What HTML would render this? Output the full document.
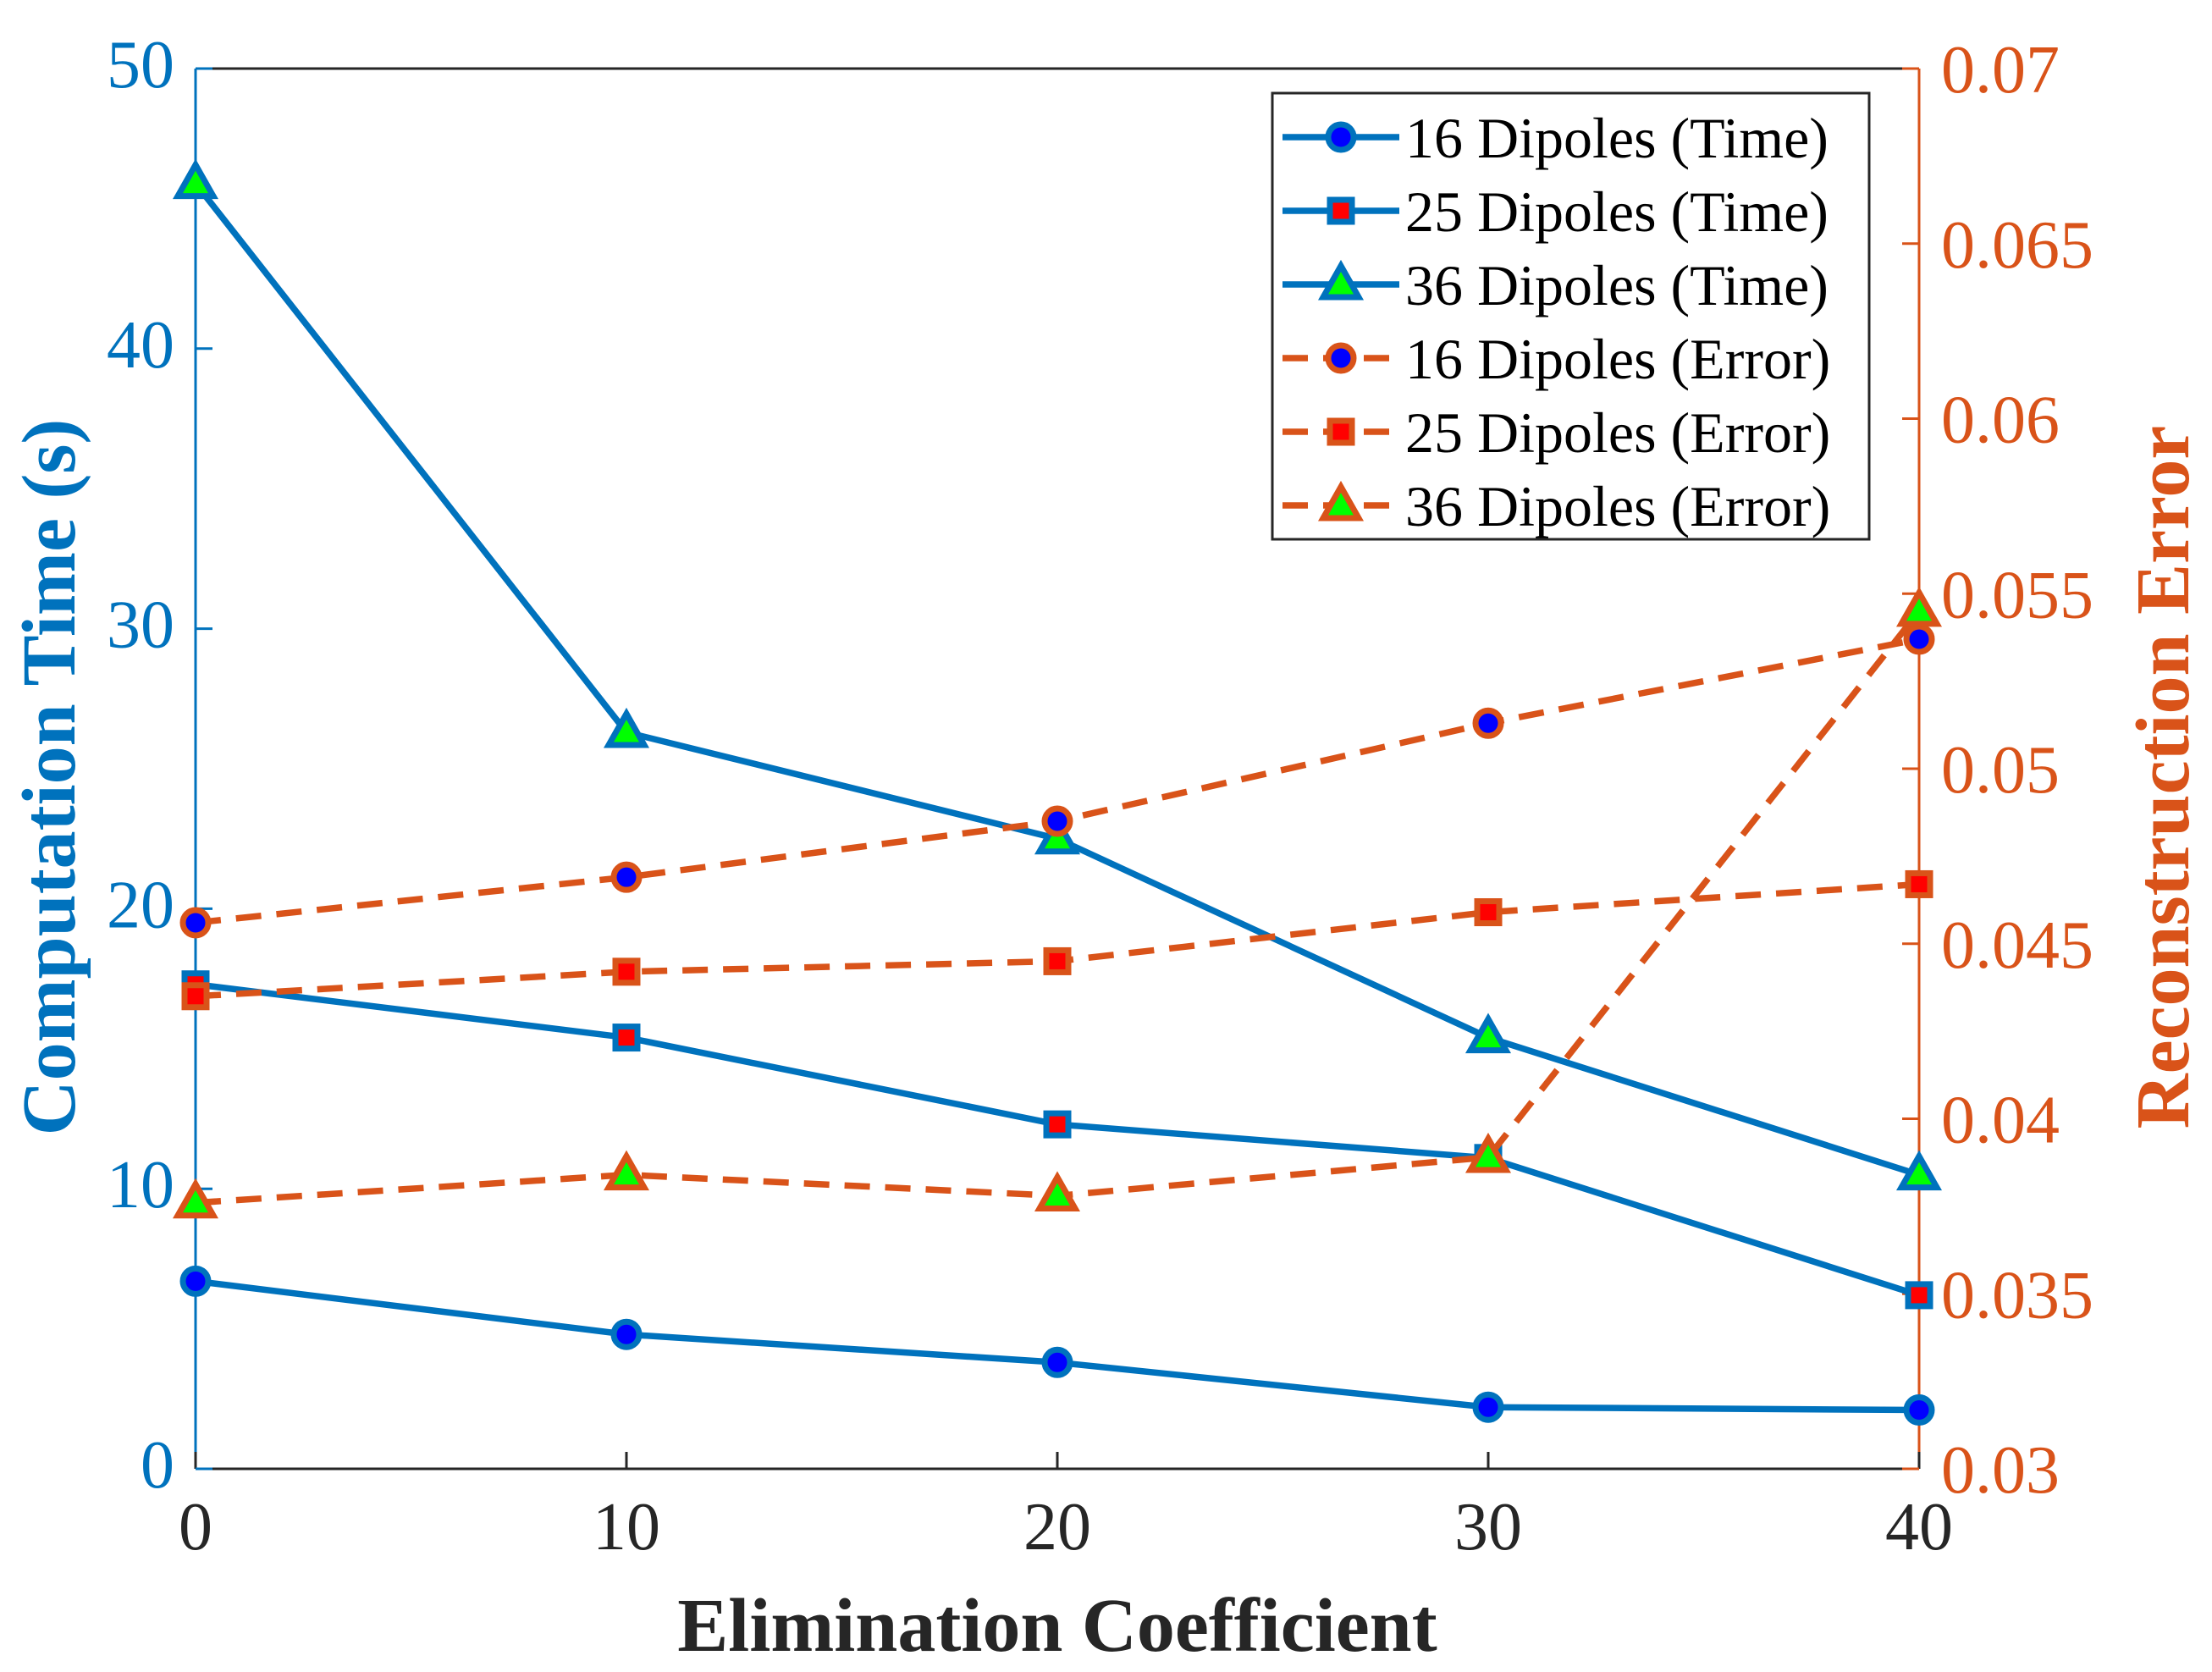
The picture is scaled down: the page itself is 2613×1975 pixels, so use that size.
<!DOCTYPE html>
<html><head><meta charset="utf-8"><style>
html,body{margin:0;padding:0;background:#fff}
svg{display:block;font-family:"Liberation Serif",serif}
</style></head><body>
<svg id="chart" width="2613" height="1975" viewBox="0 0 2613 1975" xmlns="http://www.w3.org/2000/svg"></svg>
<script>
const categories=[0,10,20,30,40];
const time16=[6.7,4.8,3.8,2.2,2.1];
const time25=[17.3,15.4,12.3,11.1,6.2];
const time36=[45.9,26.3,22.5,15.4,10.5];
const err16=[0.0456,0.0469,0.0485,0.0513,0.0537];
const err25=[0.0435,0.0442,0.0445,0.0459,0.0467];
const err36=[0.0376,0.0384,0.0378,0.0389,0.0545];
const xTicks=[0,10,20,30,40];
const yLTicks=[0,10,20,30,40,50];
const yRTicks=[0.03,0.035,0.04,0.045,0.05,0.055,0.06,0.065,0.07];
const yRLabels=["0.03","0.035","0.04","0.045","0.05","0.055","0.06","0.065","0.07"];

const PL=231,PR=2267,PT=81,PB=1735;
const BLUE="#0072BD",ORANGE="#D95319";
const LW=7.5;
const sx=v=>PL+(v-0)/(40-0)*(PR-PL);
const syL=v=>PB-(v-0)/(50-0)*(PB-PT);
const syR=v=>PB-(v-0.03)/(0.07-0.03)*(PB-PT);
const svgEl=document.getElementById('chart');
const NS="http://www.w3.org/2000/svg";
function mk(tag,attrs,parent){const e=document.createElementNS(NS,tag);for(const k in attrs)e.setAttribute(k,attrs[k]);(parent||svgEl).appendChild(e);return e;}

const topBorder=mk('line',{x1:PL,y1:PT,x2:PR,y2:PT,stroke:'#262626','stroke-width':3});


const botAxis=mk('line',{x1:PL,y1:PB,x2:PR,y2:PB,stroke:'#262626','stroke-width':3});


const leftAxis=mk('line',{x1:PL,y1:PT,x2:PL,y2:PB,stroke:BLUE,'stroke-width':3});


const rightAxis=mk('line',{x1:PR,y1:PT,x2:PR,y2:PB,stroke:ORANGE,'stroke-width':3});



xTicks.forEach(v=>{
  const t=mk('line',{x1:sx(v),y1:PB,x2:sx(v),y2:PB-20,stroke:'#262626','stroke-width':3});
  
  
  const tx=mk('text',{x:sx(v),y:PB+95,'text-anchor':'middle','font-size':80,fill:'#262626'});
  tx.textContent=v;
  
  
});
yLTicks.forEach(v=>{
  const t=mk('line',{x1:PL,y1:syL(v),x2:PL+20,y2:syL(v),stroke:BLUE,'stroke-width':3});
  
  
  const tx=mk('text',{x:PL-25,y:syL(v)+22,'text-anchor':'end','font-size':80,fill:BLUE});
  tx.textContent=v;
  
  
});
yRTicks.forEach((v,i)=>{
  const t=mk('line',{x1:PR,y1:syR(v),x2:PR-20,y2:syR(v),stroke:ORANGE,'stroke-width':3});
  
  
  const tx=mk('text',{x:PR+26,y:syR(v)+28,'text-anchor':'start','font-size':80,fill:ORANGE});
  tx.textContent=yRLabels[i];
  
  
});

const xl=mk('text',{x:(PL+PR)/2,y:1950,'text-anchor':'middle','font-size':90,'font-weight':'bold',fill:'#262626'});
xl.textContent='Elimination Coefficient';


const yl=mk('text',{x:0,y:0,'text-anchor':'middle','font-size':90,'font-weight':'bold',fill:BLUE,transform:`translate(88,${(PT+PB)/2+10}) rotate(-90)`});
yl.textContent='Computation Time (s)';


const yr=mk('text',{x:0,y:0,'text-anchor':'middle','font-size':90,'font-weight':'bold',fill:ORANGE,transform:`translate(2585,${(PT+PB)/2+10}) rotate(-90)`});
yr.textContent='Reconstruction Error';



function marker(type,x,y,edge,face,g){
  let e;
  if(type==='c') e=mk('circle',{cx:x,cy:y,r:15,fill:face,stroke:edge,'stroke-width':7},g);
  else if(type==='s') e=mk('rect',{x:x-13,y:y-13,width:26,height:26,fill:face,stroke:edge,'stroke-width':7},g);
  else e=mk('polygon',{points:`${x},${y-22} ${x-21},${y+15} ${x+21},${y+15}`,fill:face,stroke:edge,'stroke-width':7},g);
  return e;
}
function series(vals,sy,color,dash,type,face,name){
  const g=mk('g',{});
  
  
  const pts=vals.map((v,i)=>sx(categories[i])+','+sy(v)).join(' ');
  const pl=mk('polyline',{points:pts,fill:'none',stroke:color,'stroke-width':LW,'stroke-dasharray':dash||'none'},g);
  
  
  vals.forEach((v,i)=>{
    const m=marker(type,sx(categories[i]),sy(v),color,face,g);
    
    
  });
}
series(time16,syL,BLUE,null,'c','#0000FF','series-16-time');
series(time25,syL,BLUE,null,'s','#FF0000','series-25-time');
series(time36,syL,BLUE,null,'t','#00FF00','series-36-time');
series(err16,syR,ORANGE,'30 18','c','#0000FF','series-16-error');
series(err25,syR,ORANGE,'30 18','s','#FF0000','series-25-error');
series(err36,syR,ORANGE,'30 18','t','#00FF00','series-36-error');

const lg=mk('g',{});


const box=mk('rect',{x:1503,y:110,width:705,height:527,fill:'#fff',stroke:'#262626','stroke-width':3},lg);


const entries=[['16 Dipoles (Time)',BLUE,null,'c','#0000FF'],['25 Dipoles (Time)',BLUE,null,'s','#FF0000'],['36 Dipoles (Time)',BLUE,null,'t','#00FF00'],
['16 Dipoles (Error)',ORANGE,'30 18','c','#0000FF'],['25 Dipoles (Error)',ORANGE,'30 18','s','#FF0000'],['36 Dipoles (Error)',ORANGE,'30 18','t','#00FF00']];
entries.forEach((e,i)=>{
  const y=162+i*87;
  const g=mk('g',{},lg);
  
  
  mk('line',{x1:1515,y1:y,x2:1653,y2:y,stroke:e[1],'stroke-width':LW,'stroke-dasharray':e[2]||'none'},g);
  marker(e[3],1584,y,e[1],e[4],g);
  const t=mk('text',{x:1660,y:y+24,'font-size':68,fill:'#000'},g);
  t.textContent=e[0];
});
</script>
</body></html>
